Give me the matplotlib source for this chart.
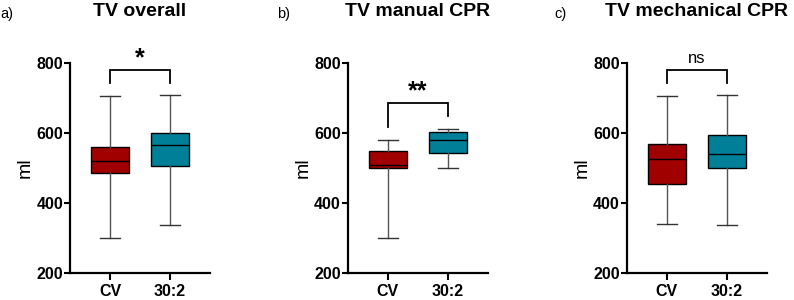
import matplotlib.pyplot as plt

plt.rcParams['font.family'] = ['Liberation Sans', 'DejaVu Sans']

# ---------------- DATA ----------------
groups = ["CV", "30:2"]
titles = ["TV overall", "TV manual CPR", "TV mechanical CPR"]
panel_labels = ["a)", "b)", "c)"]
sig_labels = ["*", "**", "ns"]

# per panel: [CV, 30:2]
whis_lo = [[300, 338], [300, 499], [339, 336]]
q1 = [[485, 505], [500, 544], [453, 501]]
median = [[520, 565], [510, 579], [525, 541]]
q3 = [[560, 599], [549, 602], [568, 594]]
whis_hi = [[706, 708], [580, 612], [706, 708]]

# bracket: top, left end, right end (ml)
bracket = [[780, 744, 744], [687, 618, 649], [780, 744, 744]]

colors = ["#A00000", "#007F99"]
y_ticks = [200, 400, 600, 800]

# ---------------- FIGURE ----------------
fig = plt.figure(figsize=(7.94, 3.0), dpi=100)
lefts = [70 / 794, 347.7 / 794, 626.7 / 794]
ax_w = 140 / 794

for i in range(3):
    ax = fig.add_axes([lefts[i], 0.09, ax_w, 0.70])
    stats = []
    for j in range(2):
        stats.append({
            "whislo": whis_lo[i][j], "q1": q1[i][j], "med": median[i][j],
            "q3": q3[i][j], "whishi": whis_hi[i][j], "fliers": [],
        })
    bp = ax.bxp(stats, positions=[1, 2], widths=0.63, patch_artist=True,
                showfliers=False,
                boxprops=dict(edgecolor="black", linewidth=1.0),
                medianprops=dict(color="black", linewidth=1.0),
                whiskerprops=dict(color="#555555", linewidth=1.0),
                capprops=dict(color="#333333", linewidth=1.0),
                capwidths=0.33)
    for patch, c in zip(bp["boxes"], colors):
        patch.set_facecolor(c)

    ax.set_xlim(1 - 40 / 60, 2 + 40 / 60)
    ax.set_ylim(200, 800)
    ax.set_yticks(y_ticks)
    ax.set_xticks([1, 2])
    ax.set_xticklabels(groups)
    for lab in ax.get_xticklabels() + ax.get_yticklabels():
        lab.set_fontweight("bold")
        lab.set_fontsize(11.5)
    ax.tick_params(axis="y", length=4, width=1.5, pad=1)
    ax.tick_params(axis="x", length=5, width=1.5, pad=3)
    for side in ["top", "right"]:
        ax.spines[side].set_visible(False)
    for side in ["left", "bottom"]:
        ax.spines[side].set_linewidth(1.6)
    ax.spines["left"].set_bounds(200, 800)
    ax.set_ylabel("ml", fontsize=14, labelpad=2)

    top, l_end, r_end = bracket[i]
    ax.plot([1, 1, 2, 2], [l_end, top, top, r_end], color="black",
            linewidth=1.3, clip_on=False, solid_joinstyle="miter")
    if sig_labels[i] == "ns":
        ax.text(1.5, top + 12, "ns", ha="center", va="bottom", fontsize=12)
    else:
        ax.text(1.5, top - 2, sig_labels[i], ha="center", va="bottom",
                fontsize=18, fontweight="bold")

    cx = lefts[i] + ax_w / 2
    fig.text(cx, 0.962, titles[i], ha="center", va="center",
             fontsize=14, fontweight="bold")

label_x = [0 / 794, 277 / 794, 554 / 794]
for i in range(3):
    fig.text(label_x[i], 0.952, panel_labels[i], ha="left", va="center",
             fontsize=10.5)

fig.savefig("out.png", dpi=100)
